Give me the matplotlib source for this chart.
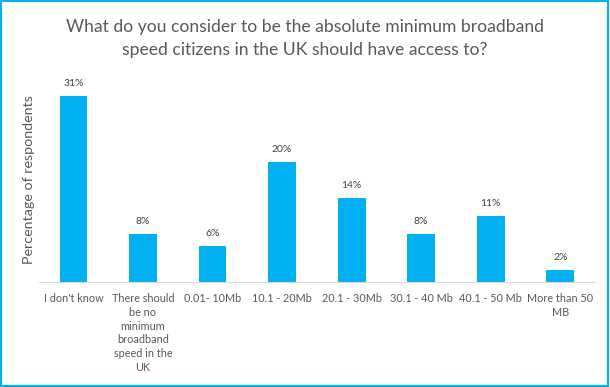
import matplotlib.pyplot as plt
from matplotlib.patches import Rectangle

plt.rcParams['font.family'] = ['Lato', 'DejaVu Sans']

# data
categories = ["I don't know", "There should\nbe no\nminimum\nbroadband\nspeed in the\nUK",
              "0.01- 10Mb", "10.1 - 20Mb", "20.1 - 30Mb", "30.1 - 40 Mb",
              "40.1 - 50 Mb", "More than 50\nMB"]
values = [31, 8, 6, 20, 14, 8, 11, 2]
labels = ["31%", "8%", "6%", "20%", "14%", "8%", "11%", "2%"]

grey = '#595959'
blue = '#00B0F0'

fig = plt.figure(figsize=(6.1, 3.87), dpi=100)
ax = fig.add_axes([0.0634, 0.271, 0.912, 0.52])

x = range(len(values))
bars = ax.bar(x, values, width=0.4, color=blue, zorder=2)
for b, t in zip(bars, labels):
    ax.text(b.get_x() + b.get_width() / 2, b.get_height() + 1.3, t,
            ha='center', va='bottom', fontsize=7.5, color='#404040')

ax.set_xlim(-0.5, len(values) - 0.5)
ax.set_ylim(0, 33.5)
ax.set_xticks(list(x))
ax.set_xticklabels(categories, fontsize=7.8, color=grey, linespacing=1.3)
ax.tick_params(axis='x', length=0, pad=8)
ax.set_yticks([])
for s in ['top', 'right', 'left']:
    ax.spines[s].set_visible(False)
ax.spines['bottom'].set_color('#D9D9D9')

fig.text(0.047, 0.535, 'Percentage of respondents', rotation=90, ha='center',
         va='center', fontsize=10.3, color=grey)
fig.text(0.5, 0.9, 'What do you consider to be the absolute minimum broadband\nspeed citizens in the UK should have access to?',
         ha='center', va='center', fontsize=12.6, color=grey, linespacing=1.55)

fig.patches.append(Rectangle((0.002, 0.003), 0.994, 0.994, transform=fig.transFigure,
                             fill=False, edgecolor=blue, linewidth=1.5))

fig.savefig('out.png', dpi=100)
